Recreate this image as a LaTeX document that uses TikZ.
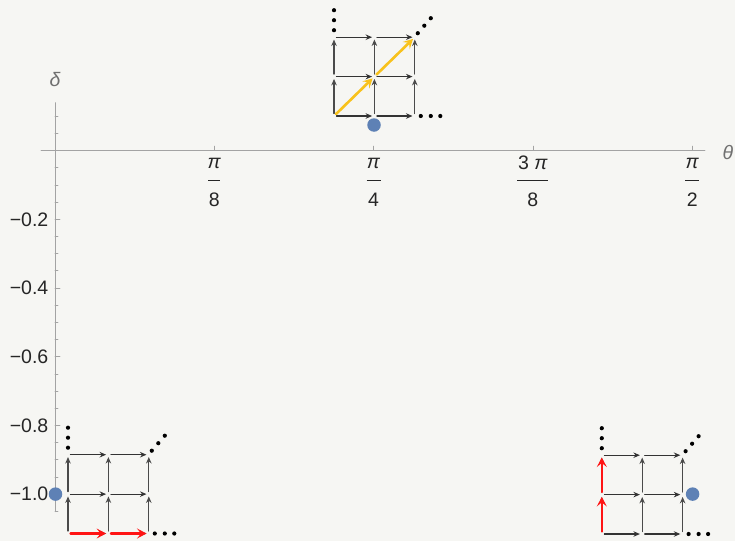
\documentclass[tikz,border=0pt]{standalone}
\usepackage{fontspec}
\setmainfont{Liberation Sans}
\usetikzlibrary{arrows.meta}
\definecolor{latPaper}{HTML}{F6F6F3}
\definecolor{latAxis}{HTML}{A3A3A3}
\definecolor{latLabel}{HTML}{707070}
\definecolor{latInk}{HTML}{262626}
\definecolor{latHop}{HTML}{333333}
\definecolor{latHopUp}{HTML}{4A4A4A}
\definecolor{latBlue}{HTML}{5E81B5}
\definecolor{latRed}{HTML}{FF1414}
\definecolor{latGold}{HTML}{F8C21C}

\begin{document}
\begin{tikzpicture}[x=1pt,y=-1pt,>=Latex,line cap=round,line join=round]
\path[fill=latPaper] (0,0) rectangle (735,541);
\tikzset{axis/.style={draw=latAxis,line width=0.9pt},tick/.style={draw=latAxis,line width=0.7pt},ticklab/.style={text=latInk,inner sep=0pt,font=\fontsize{19.5}{22}\selectfont},axlab/.style={text=latLabel,inner sep=0pt,font=\fontsize{19.5}{22}\selectfont\itshape},fracbar/.style={draw=latInk,line width=1.3pt,line cap=butt},hop/.style={draw=latHop,line width=1.1pt,-{Stealth[length=6.5pt,width=5.5pt]},shorten <=2.5pt,shorten >=2.3pt},uphop/.style={hop,draw=latHopUp},redhop/.style={draw=latRed,line width=2.3pt,-{Stealth[length=9.5pt,width=10pt,inset=4pt]},shorten <=2.5pt,shorten >=2.3pt},goldhop/.style={draw=latGold,line width=2.6pt,-{Stealth[length=9.5pt,width=10pt,inset=4pt]},shorten <=3pt,shorten >=2.5pt},site/.style={circle,fill=latBlue,inner sep=0pt,minimum size=13.5pt}}
% axes
\coordinate (o) at (55,150.6); \coordinate (xl) at (41,150.6); \coordinate (xr) at (705,150.6); \coordinate (yt) at (55,102.7); \coordinate (yb) at (55,511.7);
\draw[axis] (xl) -- (xr); \draw[axis] (yt) -- (yb);
\foreach \k in {1,...,4} \draw[tick] (55+159.3*\k,150.6) -- ++(0,-4.5);
\foreach \i in {-21,...,2} {\pgfmathsetmacro\len{ifthenelse(mod(\i,4)==0,5,3)} \draw[tick] (55,150.6-17.175*\i) -- ++(\len,0);}
\foreach \k/\lab in {1/0.2,2/0.4,3/0.6,4/0.8,5/1.0} \node[ticklab,anchor=east] (dl\k) at (48.5,150.6+68.7*\k) {−\lab};
\foreach \k/\num/\den/\w in {1/{\textit{π}}/8/12,2/{\textit{π}}/4/14,3/{3 \textit{π}}/8/31,4/{\textit{π}}/2/14} {\node[ticklab] (tn\k) at (55+159.3*\k,163) {\num}; \draw[fracbar] (55+159.3*\k-\w/2,180.3) -- ++(\w,0); \node[ticklab] (td\k) at (55+159.3*\k,199.5) {\den};}
\node[axlab] (dlab) at (55,80) {δ}; \node[axlab] (tlab) at (728,153) {θ};
% lattices: a = top, b = bottom left, c = bottom right
\foreach \c/\x/\y in {a/334/116,b/68/533.5,c/601.8/534} {\foreach \i in {0,1,2} {\foreach \j in {0,1,2} {\coordinate (\c\i\j) at (\x+40.4*\i,\y-39.4*\j);}}}
\foreach \c in {a,b,c} {\foreach \j in {0,1,2} {\draw[hop] (\c0\j) -- (\c1\j); \draw[hop] (\c1\j) -- (\c2\j); \draw[uphop] (\c\j0) -- (\c\j1); \draw[uphop] (\c\j1) -- (\c\j2);}
\foreach \d in {7,17,27} \fill (\c02) ++(0,-\d) circle (2.1);
\foreach \dx/\dy in {3/4,9.5/11.5,16/19} \fill (\c22) ++(\dx,-\dy) circle (2.1);
\foreach \d in {6,16,25.5} \fill (\c20) ++(\d,0) circle (2.1);}
\draw[goldhop] (a00) -- (a11); \draw[goldhop] (a11) -- (a22);
\draw[redhop] (b00) -- (b10); \draw[redhop] (b10) -- (b20);
\draw[redhop] (c00) -- (c01); \draw[redhop] (c01) -- (c02);
\node[site] (sa) at (374,125) {}; \node[site] (sb) at (55.5,494.1) {}; \node[site] (sc) at (692.6,494.1) {};
\end{tikzpicture}
\end{document}
